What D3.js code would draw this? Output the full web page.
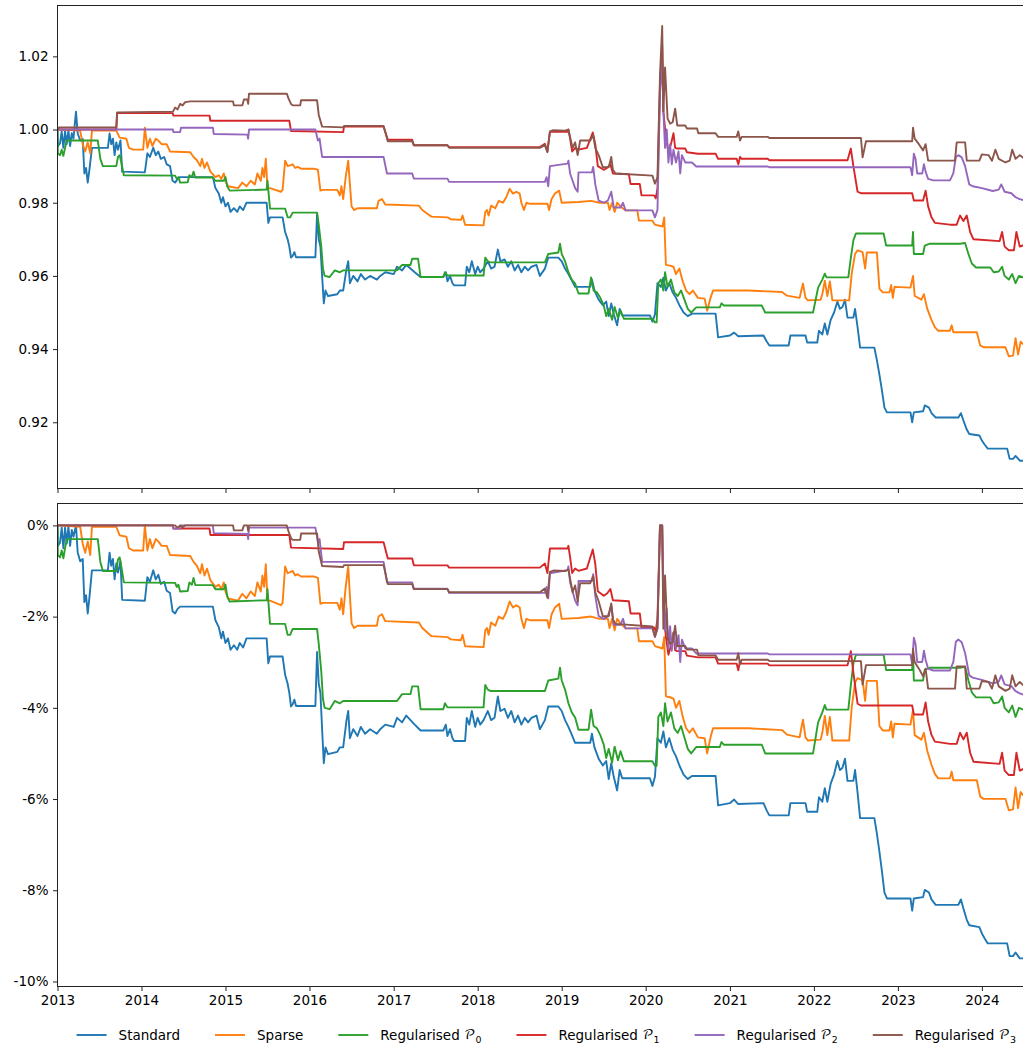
<!DOCTYPE html>
<html>
<head>
<meta charset="utf-8">
<script src="https://cdn.jsdelivr.net/npm/d3@7"></script>
<style>
  body { margin: 0; background: #fff; }
  svg { display: block; }
  text { font-family: "DejaVu Sans", sans-serif; fill: #000; }
</style>
</head>
<body>
<svg id="chart" width="1023" height="1048"></svg>
<script>
// ---- data: portfolio wealth paths, [decimal year, wealth] ----
const standardWealth = [[2013.000,1.0000],[2013.004,0.9955],[2013.03,0.9962],[2013.05,0.9995],[2013.07,0.9950],[2013.09,0.9995],[2013.11,0.9960],[2013.13,0.9998],[2013.15,0.9955],[2013.17,0.9990],[2013.19,0.9975],[2013.22,1.0049],[2013.24,0.9990],[2013.27,0.9970],[2013.30,0.9975],[2013.32,0.9880],[2013.34,0.9895],[2013.36,0.9855],[2013.38,0.9890],[2013.41,0.9950],[2013.60,0.9950],[2013.62,0.9989],[2013.64,0.9960],[2013.66,0.9975],[2013.68,0.9930],[2013.70,0.9965],[2013.72,0.9945],[2013.75,0.9970],[2013.77,0.9885],[2014.04,0.9883],[2014.07,0.9935],[2014.10,0.9925],[2014.14,0.9950],[2014.17,0.9930],[2014.20,0.9940],[2014.23,0.9920],[2014.27,0.9925],[2014.30,0.9905],[2014.34,0.9900],[2014.37,0.9860],[2014.40,0.9855],[2014.43,0.9865],[2014.46,0.9870],[2014.85,0.9870],[2014.88,0.9840],[2014.92,0.9825],[2014.95,0.9800],[2014.97,0.9815],[2015.00,0.9790],[2015.03,0.9800],[2015.06,0.9775],[2015.10,0.9785],[2015.14,0.9775],[2015.17,0.9790],[2015.21,0.9780],[2015.25,0.9800],[2015.49,0.9800],[2015.51,0.9745],[2015.53,0.9760],[2015.68,0.9760],[2015.71,0.9720],[2015.74,0.9700],[2015.76,0.9680],[2015.78,0.9650],[2015.80,0.9655],[2015.82,0.9665],[2015.84,0.9651],[2016.07,0.9651],[2016.09,0.9770],[2016.11,0.9700],[2016.13,0.9680],[2016.15,0.9600],[2016.17,0.9525],[2016.19,0.9560],[2016.22,0.9545],[2016.33,0.9550],[2016.36,0.9560],[2016.40,0.9560],[2016.44,0.9620],[2016.46,0.9640],[2016.48,0.9580],[2016.52,0.9600],[2016.57,0.9585],[2016.61,0.9605],[2016.66,0.9590],[2016.72,0.9600],[2016.80,0.9590],[2016.84,0.9600],[2016.90,0.9610],[2017.00,0.9605],[2017.04,0.9625],[2017.10,0.9615],[2017.15,0.9630],[2017.20,0.9620],[2017.25,0.9610],[2017.32,0.9597],[2017.59,0.9597],[2017.62,0.9610],[2017.64,0.9585],[2017.67,0.9600],[2017.70,0.9580],[2017.72,0.9574],[2017.85,0.9574],[2017.87,0.9625],[2017.90,0.9610],[2017.93,0.9640],[2017.97,0.9605],[2018.00,0.9625],[2018.03,0.9610],[2018.07,0.9620],[2018.12,0.9640],[2018.16,0.9620],[2018.20,0.9625],[2018.24,0.9672],[2018.27,0.9640],[2018.32,0.9645],[2018.36,0.9625],[2018.40,0.9640],[2018.44,0.9615],[2018.48,0.9630],[2018.52,0.9610],[2018.56,0.9625],[2018.60,0.9615],[2018.64,0.9625],[2018.70,0.9630],[2018.74,0.9600],[2018.80,0.9620],[2018.84,0.9650],[2018.96,0.9650],[2019.00,0.9640],[2019.04,0.9620],[2019.08,0.9605],[2019.12,0.9588],[2019.16,0.9570],[2019.34,0.9570],[2019.36,0.9590],[2019.39,0.9560],[2019.44,0.9535],[2019.49,0.9520],[2019.53,0.9530],[2019.56,0.9490],[2019.59,0.9525],[2019.62,0.9495],[2019.66,0.9465],[2019.69,0.9510],[2019.72,0.9492],[2020.05,0.9492],[2020.08,0.9475],[2020.11,0.9495],[2020.14,0.9580],[2020.18,0.9570],[2020.21,0.9595],[2020.24,0.9560],[2020.28,0.9580],[2020.32,0.9555],[2020.36,0.9540],[2020.40,0.9520],[2020.45,0.9500],[2020.50,0.9490],[2020.55,0.9497],[2020.83,0.9497],[2020.86,0.9432],[2021.00,0.9437],[2021.05,0.9445],[2021.10,0.9435],[2021.40,0.9437],[2021.44,0.9420],[2021.47,0.9410],[2021.70,0.9410],[2021.72,0.9437],[2021.90,0.9437],[2021.92,0.9418],[2022.04,0.9418],[2022.06,0.9450],[2022.10,0.9440],[2022.13,0.9470],[2022.16,0.9440],[2022.20,0.9480],[2022.24,0.9500],[2022.28,0.9530],[2022.31,0.9510],[2022.34,0.9515],[2022.37,0.9535],[2022.40,0.9486],[2022.47,0.9486],[2022.49,0.9510],[2022.52,0.9460],[2022.55,0.9404],[2022.72,0.9404],[2022.75,0.9370],[2022.78,0.9330],[2022.81,0.9287],[2022.84,0.9240],[2022.87,0.9227],[2023.15,0.9227],[2023.17,0.9200],[2023.19,0.9227],[2023.30,0.9230],[2023.32,0.9246],[2023.37,0.9240],[2023.40,0.9225],[2023.45,0.9213],[2023.72,0.9213],[2023.75,0.9225],[2023.78,0.9205],[2023.82,0.9180],[2023.85,0.9168],[2023.97,0.9164],[2024.00,0.9150],[2024.03,0.9140],[2024.07,0.9128],[2024.30,0.9128],[2024.33,0.9100],[2024.37,0.9100],[2024.40,0.9108],[2024.45,0.9095],[2024.506,0.9095]];

const sparseWealth = [[2013.000,1.0000],[2013.27,0.9997],[2013.30,0.9960],[2013.33,0.9940],[2013.36,0.9965],[2013.39,0.9935],[2013.41,0.9997],[2013.70,0.9997],[2013.74,0.9978],[2013.82,0.9975],[2013.85,0.9950],[2013.90,0.9945],[2014.02,0.9945],[2014.04,1.0005],[2014.07,0.9950],[2014.10,0.9975],[2014.13,0.9955],[2014.17,0.9975],[2014.20,0.9970],[2014.24,0.9960],[2014.30,0.9960],[2014.34,0.9940],[2014.58,0.9938],[2014.62,0.9925],[2014.66,0.9916],[2014.70,0.9900],[2014.72,0.9920],[2014.75,0.9895],[2014.78,0.9910],[2014.82,0.9885],[2014.88,0.9870],[2014.92,0.9875],[2014.95,0.9865],[2014.98,0.9880],[2015.00,0.9860],[2015.03,0.9845],[2015.15,0.9840],[2015.20,0.9855],[2015.25,0.9845],[2015.30,0.9860],[2015.35,0.9850],[2015.38,0.9880],[2015.42,0.9860],[2015.44,0.9895],[2015.46,0.9870],[2015.48,0.9920],[2015.50,0.9840],[2015.53,0.9840],[2015.66,0.9830],[2015.68,0.9835],[2015.71,0.9915],[2015.74,0.9900],[2015.80,0.9905],[2015.83,0.9895],[2015.86,0.9898],[2015.90,0.9893],[2016.05,0.9893],[2016.10,0.9890],[2016.13,0.9833],[2016.16,0.9835],[2016.33,0.9835],[2016.36,0.9820],[2016.38,0.9845],[2016.40,0.9810],[2016.43,0.9870],[2016.46,0.9915],[2016.48,0.9850],[2016.50,0.9790],[2016.53,0.9780],[2016.57,0.9785],[2016.80,0.9785],[2016.82,0.9805],[2016.86,0.9810],[2016.90,0.9795],[2017.30,0.9792],[2017.34,0.9780],[2017.40,0.9770],[2017.45,0.9762],[2017.64,0.9760],[2017.68,0.9755],[2017.80,0.9753],[2017.82,0.9765],[2017.85,0.9740],[2018.07,0.9738],[2018.09,0.9775],[2018.11,0.9780],[2018.13,0.9765],[2018.16,0.9792],[2018.21,0.9785],[2018.25,0.9805],[2018.30,0.9800],[2018.34,0.9815],[2018.38,0.9838],[2018.42,0.9825],[2018.46,0.9830],[2018.50,0.9825],[2018.52,0.9800],[2018.55,0.9780],[2018.58,0.9800],[2018.62,0.9797],[2018.83,0.9797],[2018.85,0.9780],[2018.88,0.9810],[2018.92,0.9825],[2018.97,0.9833],[2019.00,0.9800],[2019.20,0.9802],[2019.35,0.9805],[2019.45,0.9800],[2019.55,0.9800],[2019.57,0.9780],[2019.60,0.9800],[2019.63,0.9775],[2019.66,0.9800],[2019.70,0.9790],[2019.76,0.9779],[2019.90,0.9779],[2019.92,0.9751],[2020.08,0.9751],[2020.11,0.9740],[2020.20,0.9735],[2020.22,0.9760],[2020.24,0.9630],[2020.29,0.9628],[2020.33,0.9625],[2020.36,0.9605],[2020.40,0.9620],[2020.44,0.9585],[2020.48,0.9560],[2020.52,0.9550],[2020.56,0.9560],[2020.62,0.9540],[2020.70,0.9538],[2020.73,0.9505],[2020.77,0.9540],[2020.80,0.9560],[2021.22,0.9560],[2021.62,0.9556],[2021.68,0.9546],[2021.83,0.9540],[2021.85,0.9560],[2021.87,0.9579],[2021.90,0.9540],[2021.93,0.9533],[2022.08,0.9535],[2022.10,0.9550],[2022.13,0.9587],[2022.16,0.9545],[2022.19,0.9585],[2022.22,0.9533],[2022.42,0.9533],[2022.45,0.9606],[2022.49,0.9660],[2022.52,0.9670],[2022.58,0.9665],[2022.61,0.9620],[2022.63,0.9664],[2022.75,0.9664],[2022.78,0.9565],[2022.82,0.9555],[2022.90,0.9555],[2022.92,0.9575],[2022.94,0.9540],[2022.96,0.9570],[2023.15,0.9568],[2023.18,0.9600],[2023.20,0.9545],[2023.28,0.9535],[2023.31,0.9550],[2023.35,0.9510],[2023.40,0.9480],[2023.44,0.9460],[2023.48,0.9450],[2023.62,0.9450],[2023.64,0.9465],[2023.66,0.9446],[2023.94,0.9446],[2023.98,0.9410],[2024.02,0.9405],[2024.28,0.9405],[2024.32,0.9380],[2024.37,0.9382],[2024.40,0.9430],[2024.43,0.9385],[2024.46,0.9420],[2024.506,0.9410]];

const p0Wealth = [[2013.000,1.0000],[2013.004,0.9935],[2013.03,0.9930],[2013.05,0.9945],[2013.07,0.9928],[2013.09,0.9950],[2013.11,0.9970],[2013.48,0.9970],[2013.51,0.9920],[2013.54,0.9900],[2013.70,0.9900],[2013.72,0.9925],[2013.74,0.9930],[2013.76,0.9910],[2013.79,0.9875],[2014.40,0.9874],[2014.42,0.9865],[2014.44,0.9870],[2014.46,0.9855],[2014.55,0.9856],[2014.57,0.9875],[2014.60,0.9870],[2014.62,0.9885],[2014.64,0.9869],[2014.85,0.9869],[2014.88,0.9860],[2014.98,0.9860],[2015.00,0.9870],[2015.02,0.9845],[2015.05,0.9833],[2015.49,0.9836],[2015.50,0.9860],[2015.53,0.9784],[2015.71,0.9784],[2015.74,0.9760],[2015.77,0.9760],[2015.80,0.9773],[2016.09,0.9773],[2016.11,0.9740],[2016.14,0.9680],[2016.16,0.9620],[2016.18,0.9600],[2016.24,0.9597],[2016.30,0.9615],[2016.36,0.9610],[2016.40,0.9615],[2017.04,0.9615],[2017.08,0.9625],[2017.10,0.9630],[2017.20,0.9630],[2017.22,0.9647],[2017.29,0.9647],[2017.32,0.9597],[2017.59,0.9597],[2017.61,0.9610],[2017.64,0.9601],[2018.07,0.9601],[2018.09,0.9650],[2018.12,0.9640],[2018.15,0.9637],[2018.80,0.9637],[2018.84,0.9660],[2018.96,0.9664],[2018.98,0.9688],[2019.00,0.9660],[2019.04,0.9640],[2019.08,0.9610],[2019.12,0.9590],[2019.16,0.9579],[2019.20,0.9552],[2019.32,0.9552],[2019.35,0.9596],[2019.38,0.9560],[2019.42,0.9555],[2019.46,0.9540],[2019.50,0.9520],[2019.53,0.9490],[2019.56,0.9510],[2019.60,0.9480],[2019.63,0.9515],[2019.67,0.9485],[2019.70,0.9505],[2019.74,0.9483],[2020.08,0.9483],[2020.11,0.9473],[2020.13,0.9473],[2020.15,0.9580],[2020.18,0.9590],[2020.21,0.9560],[2020.23,0.9610],[2020.26,0.9570],[2020.30,0.9590],[2020.34,0.9555],[2020.38,0.9545],[2020.42,0.9560],[2020.46,0.9535],[2020.50,0.9510],[2020.54,0.9500],[2020.60,0.9514],[2020.88,0.9514],[2020.90,0.9525],[2020.93,0.9519],[2021.38,0.9519],[2021.42,0.9500],[2021.99,0.9500],[2022.05,0.9568],[2022.10,0.9590],[2022.13,0.9606],[2022.15,0.9596],[2022.41,0.9596],[2022.44,0.9650],[2022.47,0.9697],[2022.50,0.9716],[2022.83,0.9716],[2022.86,0.9683],[2023.17,0.9683],[2023.18,0.9720],[2023.19,0.9660],[2023.30,0.9660],[2023.32,0.9683],[2023.38,0.9688],[2023.74,0.9688],[2023.80,0.9690],[2023.84,0.9660],[2023.88,0.9634],[2023.93,0.9623],[2024.10,0.9623],[2024.14,0.9610],[2024.20,0.9612],[2024.24,0.9625],[2024.27,0.9600],[2024.32,0.9590],[2024.36,0.9605],[2024.40,0.9580],[2024.44,0.9600],[2024.506,0.9595]];

const p1Wealth = [[2013.000,1.0000],[2013.70,1.0000],[2013.71,1.0045],[2014.37,1.0045],[2014.38,1.0038],[2014.81,1.0038],[2014.82,1.0024],[2015.76,1.0024],[2015.78,0.9996],[2016.40,0.9993],[2016.41,1.0008],[2016.88,1.0008],[2016.93,0.9972],[2017.22,0.9972],[2017.24,0.9957],[2017.64,0.9957],[2017.66,0.9952],[2018.74,0.9952],[2018.80,0.9961],[2018.83,0.9940],[2018.86,0.9994],[2019.07,0.9994],[2019.08,1.0000],[2019.10,0.9975],[2019.125,0.9940],[2019.16,0.9950],[2019.20,0.9945],[2019.30,0.9950],[2019.37,0.9992],[2019.40,0.9960],[2019.43,0.9900],[2019.50,0.9890],[2019.54,0.9895],[2019.58,0.9905],[2019.61,0.9880],[2019.80,0.9878],[2019.82,0.9851],[2019.93,0.9851],[2019.95,0.9820],[2020.10,0.9820],[2020.12,0.9812],[2020.14,0.9840],[2020.17,1.0120],[2020.196,1.0230],[2020.21,1.0050],[2020.24,0.9980],[2020.27,0.9940],[2020.30,0.9960],[2020.33,0.9990],[2020.35,0.9950],[2020.375,0.9948],[2020.47,0.9948],[2020.49,0.9938],[2020.62,0.9934],[2020.83,0.9934],[2020.86,0.9920],[2021.08,0.9920],[2021.10,0.9905],[2021.12,0.9925],[2021.14,0.9920],[2021.45,0.9920],[2021.47,0.9916],[2022.40,0.9916],[2022.44,0.9948],[2022.47,0.9900],[2022.52,0.9830],[2022.56,0.9826],[2023.17,0.9826],[2023.19,0.9806],[2023.30,0.9806],[2023.33,0.9833],[2023.36,0.9790],[2023.40,0.9760],[2023.44,0.9745],[2023.62,0.9740],[2023.70,0.9740],[2023.74,0.9765],[2023.78,0.9750],[2023.82,0.9765],[2023.86,0.9720],[2023.90,0.9700],[2024.21,0.9695],[2024.24,0.9720],[2024.27,0.9680],[2024.32,0.9670],[2024.38,0.9670],[2024.41,0.9720],[2024.45,0.9680],[2024.506,0.9685]];

const p2Wealth = [[2013.000,1.0000],[2014.375,1.0000],[2014.38,0.9993],[2014.46,0.9993],[2014.47,1.0005],[2014.85,1.0005],[2014.86,0.9988],[2015.26,0.9986],[2015.27,0.9975],[2015.28,1.0000],[2016.07,1.0000],[2016.10,0.9970],[2016.12,0.9975],[2016.15,0.9925],[2016.88,0.9925],[2016.92,0.9880],[2017.22,0.9880],[2017.24,0.9866],[2017.64,0.9866],[2017.66,0.9857],[2018.80,0.9857],[2018.82,0.9870],[2018.84,0.9845],[2018.86,0.9900],[2019.07,0.9907],[2019.08,0.9915],[2019.10,0.9880],[2019.13,0.9860],[2019.16,0.9840],[2019.19,0.9830],[2019.20,0.9883],[2019.36,0.9883],[2019.375,0.9898],[2019.40,0.9850],[2019.44,0.9806],[2019.50,0.9800],[2019.55,0.9806],[2019.59,0.9830],[2019.62,0.9787],[2019.70,0.9787],[2019.73,0.9800],[2019.76,0.9779],[2020.08,0.9779],[2020.11,0.9760],[2020.14,0.9780],[2020.17,1.0100],[2020.196,1.0185],[2020.21,1.0050],[2020.23,0.9950],[2020.25,1.0000],[2020.27,0.9910],[2020.29,0.9960],[2020.31,0.9905],[2020.33,0.9945],[2020.36,0.9910],[2020.39,0.9940],[2020.41,0.9880],[2020.43,0.9930],[2020.47,0.9910],[2020.55,0.9910],[2020.60,0.9899],[2021.45,0.9899],[2021.47,0.9897],[2023.15,0.9897],[2023.17,0.9875],[2023.19,0.9934],[2023.21,0.9920],[2023.23,0.9880],[2023.29,0.9880],[2023.31,0.9905],[2023.33,0.9885],[2023.36,0.9865],[2023.42,0.9861],[2023.62,0.9861],[2023.66,0.9880],[2023.69,0.9925],[2023.72,0.9930],[2023.76,0.9924],[2023.80,0.9900],[2023.85,0.9850],[2023.89,0.9845],[2024.00,0.9840],[2024.13,0.9832],[2024.20,0.9836],[2024.23,0.9850],[2024.27,0.9830],[2024.35,0.9826],[2024.40,0.9815],[2024.45,0.9810],[2024.506,0.9806]];

const p3Wealth = [[2013.000,1.0000],[2013.02,1.0006],[2013.70,1.0006],[2013.71,1.0047],[2014.375,1.0049],[2014.40,1.0060],[2014.43,1.0055],[2014.46,1.0070],[2014.49,1.0066],[2014.52,1.0075],[2014.58,1.0077],[2015.09,1.0077],[2015.10,1.0066],[2015.20,1.0066],[2015.22,1.0082],[2015.26,1.0082],[2015.27,1.0070],[2015.28,1.0098],[2015.73,1.0098],[2015.75,1.0085],[2015.78,1.0070],[2015.80,1.0066],[2015.89,1.0066],[2015.90,1.0080],[2016.09,1.0080],[2016.11,1.0040],[2016.15,1.0008],[2016.40,1.0006],[2016.41,1.0010],[2016.88,1.0010],[2016.93,0.9968],[2017.22,0.9968],[2017.24,0.9957],[2017.64,0.9957],[2017.66,0.9950],[2018.74,0.9950],[2018.80,0.9958],[2018.83,0.9938],[2018.86,0.9995],[2018.90,0.9998],[2019.04,0.9997],[2019.08,1.0000],[2019.10,0.9980],[2019.13,0.9950],[2019.16,0.9965],[2019.19,0.9930],[2019.22,0.9970],[2019.34,0.9970],[2019.375,0.9985],[2019.40,0.9950],[2019.44,0.9930],[2019.49,0.9897],[2019.56,0.9897],[2019.59,0.9925],[2019.61,0.9890],[2019.64,0.9880],[2020.08,0.9874],[2020.11,0.9852],[2020.14,0.9870],[2020.17,1.0150],[2020.196,1.0283],[2020.21,1.0050],[2020.23,1.0170],[2020.26,1.0030],[2020.29,1.0016],[2020.32,1.0020],[2020.35,1.0057],[2020.375,1.0011],[2020.47,1.0011],[2020.49,1.0003],[2020.61,1.0003],[2020.625,0.9990],[2020.83,0.9990],[2020.86,0.9980],[2021.08,0.9980],[2021.10,0.9995],[2021.12,0.9970],[2021.14,0.9980],[2021.45,0.9980],[2021.47,0.9977],[2022.56,0.9977],[2022.58,0.9924],[2022.62,0.9968],[2023.17,0.9968],[2023.18,1.0005],[2023.20,0.9975],[2023.25,0.9960],[2023.30,0.9943],[2023.33,0.9960],[2023.36,0.9915],[2023.68,0.9915],[2023.70,0.9965],[2023.80,0.9965],[2023.82,0.9915],[2023.97,0.9915],[2024.00,0.9932],[2024.08,0.9930],[2024.12,0.9915],[2024.16,0.9945],[2024.20,0.9920],[2024.28,0.9910],[2024.33,0.9915],[2024.36,0.9945],[2024.40,0.9920],[2024.45,0.9930],[2024.506,0.9920]];

const seriesNames = ["Standard", "Sparse", "Regularised", "Regularised", "Regularised", "Regularised"];
const seriesIndex = [null, null, "0", "1", "2", "3"];
const wealthSeries = [standardWealth, sparseWealth, p0Wealth, p1Wealth, p2Wealth, p3Wealth];
const palette = ["#1f77b4", "#ff7f0e", "#2ca02c", "#d62728", "#9467bd", "#8c564b"];

const xStart = 2013.0, xEnd = 2024.506;
const wealthTicks = [0.92, 0.94, 0.96, 0.98, 1.00, 1.02];
const drawdownTicks = [0, -0.02, -0.04, -0.06, -0.08, -0.10];
const wealthDomain = [0.9019, 1.0339];
const drawdownDomain = [-0.1011, 0.0048];

// ---- helpers ----
function yearToDate(t) {
  const y = Math.floor(t);
  const a = Date.UTC(y, 0, 1), b = Date.UTC(y + 1, 0, 1);
  return new Date(a + (t - y) * (b - a));
}
// running-peak drawdown of a wealth path
function drawdown(path) {
  let peak = -Infinity;
  return path.map(([t, v]) => { peak = Math.max(peak, v); return [t, v / peak - 1]; });
}

// ---- layout ----
const svg = d3.select("#chart");
const left = 57.5, right = 1024.5;
const topPanel = { y0: 5.5, y1: 488.5 };
const botPanel = { y0: 503.5, y1: 986.5 };
const tickLen = 4.5, tickPad = 4.5, fontSize = 13.5;

const x = d3.scaleUtc().domain([yearToDate(xStart), yearToDate(xEnd)]).range([left, right]);
const yTop = d3.scaleLinear().domain(wealthDomain).range([topPanel.y1, topPanel.y0]);
const yBot = d3.scaleLinear().domain(drawdownDomain).range([botPanel.y1, botPanel.y0]);
const years = d3.utcYear.range(yearToDate(xStart), yearToDate(xEnd));

const defs = svg.append("defs");
[["clipTop", topPanel], ["clipBot", botPanel]].forEach(([id, p]) => {
  defs.append("clipPath").attr("id", id).append("rect")
    .attr("x", left).attr("y", p.y0).attr("width", right - left).attr("height", p.y1 - p.y0);
});

function drawPanel(panel, yScale, ticks, fmt, clipId, seriesData, showXLabels) {
  const g = svg.append("g");
  const lines = g.append("g").attr("clip-path", `url(#${clipId})`);
  const line = d3.line()
    .x(d => x(yearToDate(d[0])))
    .y(d => yScale(d[1]))
    .curve(d3.curveLinear);
  seriesData.forEach((s, i) => {
    lines.append("path").datum(s)
      .attr("d", line)
      .attr("fill", "none")
      .attr("stroke", palette[i])
      .attr("stroke-width", 1.9)
      .attr("stroke-linejoin", "round")
      .attr("stroke-linecap", "butt");
  });

  // y axis
  const ya = g.append("g").attr("transform", `translate(${left},0)`)
    .call(d3.axisLeft(yScale).tickValues(ticks).tickFormat(fmt).tickSize(tickLen).tickPadding(tickPad));
  ya.select(".domain").remove();
  ya.selectAll(".tick line").attr("stroke", "#222").attr("stroke-width", 1);
  ya.selectAll(".tick text").attr("font-size", fontSize).attr("font-family", "DejaVu Sans").attr("fill", "#000");

  // x axis
  const xa = g.append("g").attr("transform", `translate(0,${panel.y1})`)
    .call(d3.axisBottom(x).tickValues(years).tickFormat(showXLabels ? d3.utcFormat("%Y") : () => "")
      .tickSize(tickLen).tickPadding(tickPad));
  xa.select(".domain").remove();
  xa.selectAll(".tick line").attr("stroke", "#222").attr("stroke-width", 1);
  xa.selectAll(".tick text").attr("font-size", fontSize).attr("font-family", "DejaVu Sans").attr("fill", "#000");

  // frame
  g.append("rect").attr("x", left).attr("y", panel.y0)
    .attr("width", right - left).attr("height", panel.y1 - panel.y0)
    .attr("fill", "none").attr("stroke", "#222").attr("stroke-width", 1);
}

drawPanel(topPanel, yTop, wealthTicks, d3.format(".2f"), "clipTop", wealthSeries, false);
drawPanel(botPanel, yBot, drawdownTicks, v => d3.format(".0f")(v * 100).replace("−", "-") + "%", "clipBot",
  wealthSeries.map(drawdown), true);

// ---- legend ----
const legendY = 1035;
const handleLen = 30, handlePad = 12, colGap = 35;
const legend = svg.append("g");
const items = [];
seriesNames.forEach((name, i) => {
  const item = legend.append("g");
  item.append("line").attr("x1", 0).attr("x2", handleLen).attr("y1", 0).attr("y2", 0)
    .attr("stroke", palette[i]).attr("stroke-width", 1.9);
  const txt = item.append("text").attr("x", handleLen + handlePad).attr("y", 0)
    .attr("dominant-baseline", "central").attr("font-size", fontSize);
  if (seriesIndex[i] === null) {
    txt.text(name);
  } else {
    txt.append("tspan").text(name + " ");
    txt.append("tspan").text("\u{1D4AB}")
      .attr("font-family", "'DejaVu Math TeX Gyre', 'STIX Two Math', 'DejaVu Serif', serif")
      .attr("font-size", fontSize);
    txt.append("tspan").text(seriesIndex[i]).attr("font-size", fontSize * 0.7).attr("dy", 3.5);
  }
  const w = handleLen + handlePad + txt.node().getComputedTextLength();
  items.push({ item, w });
});
const total = d3.sum(items, d => d.w) + colGap * (items.length - 1);
let start = (left + 1035) / 2 - total / 2;
items.forEach(({ item, w }) => {
  item.attr("transform", `translate(${start},${legendY})`);
  start += w + colGap;
});
</script>
</body>
</html>
